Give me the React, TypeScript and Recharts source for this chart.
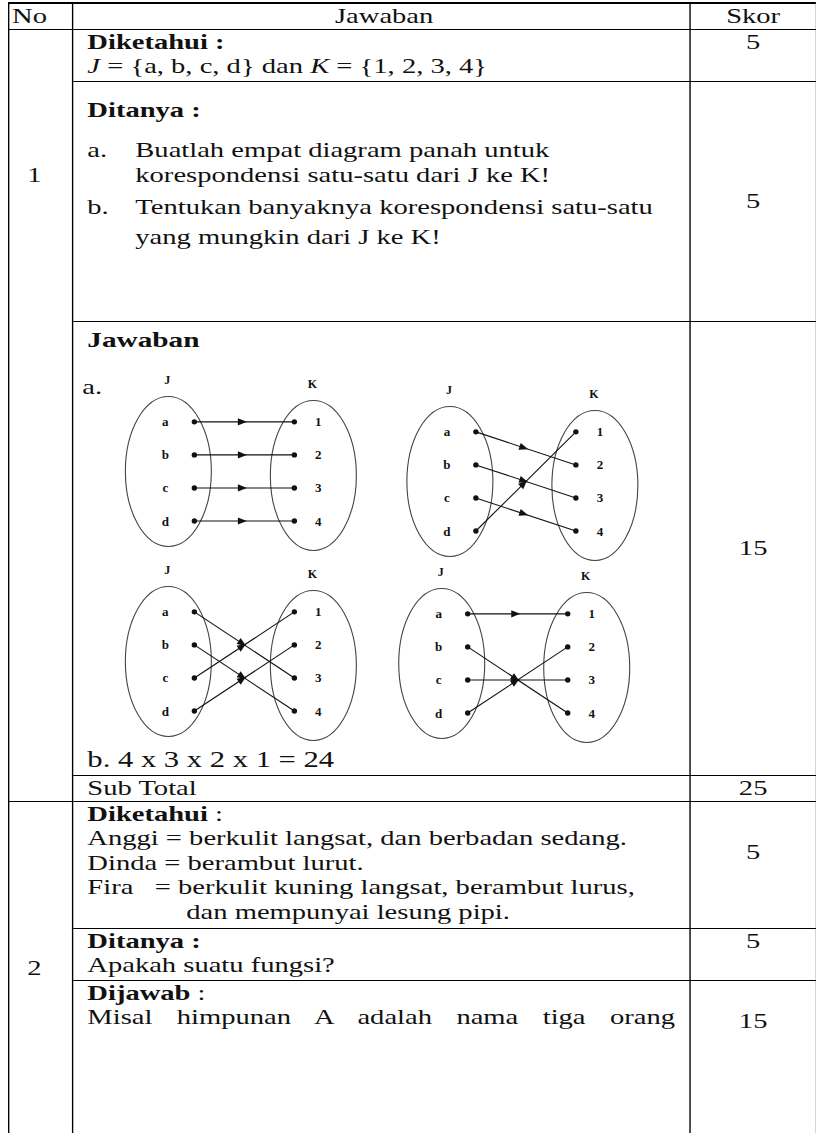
import React from 'react'
import { ScatterChart, Scatter, XAxis, YAxis, ReferenceDot } from 'recharts'

// sets of the correspondence
const setJ = ['a', 'b', 'c', 'd']
const setK = ['1', '2', '3', '4']
// image in K of a, b, c, d for each of the four arrow diagrams
const map1 = ['1', '2', '3', '4']
const map2 = ['2', '3', '4', '1']
const map3 = ['3', '4', '1', '2']
const map4 = ['1', '4', '3', '2']
const diagramMaps = [map1, map2, map3, map4]
const setPos = { J: 1, K: 2 }

// the scanned table is wider than its text height suggests
const SX = 1.36
const u = (px: number) => px / SX

const serif = '"Liberation Serif", "Times New Roman", serif'
const border = '1.5px solid #000'

const jPoints = setJ.map((name, i) => ({ x: setPos.J, y: i + 1, name }))
const kPoints = setK.map((name, i) => ({ x: setPos.K, y: i + 1, name }))

const ArrowLine = (props: any) => {
  const pts = props.points || []
  if (pts.length < 2) return <g />
  const [p, q] = pts
  const t = 0.48
  const mx = p.x + (q.x - p.x) * t
  const my = p.y + (q.y - p.y) * t
  const ang = Math.atan2(q.y - p.y, q.x - p.x)
  const L = 9
  const W = 3.6
  const tip = [mx + (Math.cos(ang) * L) / 2, my + (Math.sin(ang) * L) / 2]
  const b1 = [mx - (Math.cos(ang) * L) / 2 - Math.sin(ang) * W, my - (Math.sin(ang) * L) / 2 + Math.cos(ang) * W]
  const b2 = [mx - (Math.cos(ang) * L) / 2 + Math.sin(ang) * W, my - (Math.sin(ang) * L) / 2 - Math.cos(ang) * W]
  return (
    <g>
      <line x1={p.x} y1={p.y} x2={q.x} y2={q.y} stroke="#111" strokeWidth={1.1} />
      <polygon points={`${tip.join(',')} ${b1.join(',')} ${b2.join(',')}`} fill="#111" />
    </g>
  )
}

const JDot = (props: any) => (
  <g>
    <circle cx={props.cx} cy={props.cy} r={2.7} fill="#111" />
    <text x={props.cx - 29} y={props.cy + 4.5} textAnchor="middle" fontFamily={serif} fontWeight="bold" fontSize={13} fill="#111">
      {props.payload.name}
    </text>
  </g>
)

const KDot = (props: any) => (
  <g>
    <circle cx={props.cx} cy={props.cy} r={2.7} fill="#111" />
    <text x={props.cx + 24} y={props.cy + 4.5} textAnchor="middle" fontFamily={serif} fontWeight="bold" fontSize={13} fill="#111">
      {props.payload.name}
    </text>
  </g>
)

const SetEllipse = (side: 'J' | 'K') => (props: any) => {
  const cx = side === 'J' ? props.cx - 26 : props.cx + 19
  const cy = side === 'J' ? props.cy : props.cy + 4
  return (
    <g>
      <ellipse cx={cx} cy={cy} rx={43} ry={75} fill="none" stroke="#444" strokeWidth={1.1} />
      <text x={cx - 1} y={cy - 87} textAnchor="middle" fontFamily={serif} fontWeight="bold" fontSize={12} fill="#111">
        {side}
      </text>
    </g>
  )
}

const ArrowDiagram = ({ map }: { map: string[] }) => (
  <ScatterChart width={250} height={190} margin={{ top: 0, right: 0, bottom: 0, left: 0 }}>
    <XAxis type="number" dataKey="x" domain={[0.17, 2.67]} hide allowDataOverflow />
    <YAxis type="number" dataKey="y" domain={[-0.6, 5.15]} reversed hide allowDataOverflow />
    <ReferenceDot x={setPos.J} y={2.5} r={0} shape={SetEllipse('J')} />
    <ReferenceDot x={setPos.K} y={2.5} r={0} shape={SetEllipse('K')} />
    {map.map((k, i) => (
      <Scatter
        key={i}
        data={[
          { x: setPos.J, y: i + 1 },
          { x: setPos.K, y: setK.indexOf(k) + 1 },
        ]}
        line={ArrowLine}
        shape={() => <g />}
        isAnimationActive={false}
      />
    ))}
    <Scatter data={jPoints} shape={JDot} isAnimationActive={false} />
    <Scatter data={kPoints} shape={KDot} isAnimationActive={false} />
  </ScatterChart>
)

// page offsets of the diagrams inside the answer cell
const diagramPos = [
  { left: 38, top: 47 },
  { left: 320, top: 57 },
  { left: 38, top: 237 },
  { left: 312, top: 239 },
]

const td = (extra: React.CSSProperties = {}): React.CSSProperties => ({
  border,
  padding: `0 ${u(14)}px`,
  verticalAlign: 'top',
  ...extra,
})

const skor = (extra: React.CSSProperties = {}): React.CSSProperties => td({ textAlign: 'center', padding: 0, ...extra })

const item = (mark: string, lines: string[], mt: number, gap = 0) => (
  <div style={{ display: 'flex', marginTop: mt }}>
    <span style={{ width: u(48), flex: 'none' }}>{mark}</span>
    <span>
      {lines.map((l, i) => (
        <div key={i} style={{ marginTop: i ? gap : 0 }}>
          {l}
        </div>
      ))}
    </span>
  </div>
)

const head = { borderTop: 'none' }

export default function App() {
  return (
    <div
      style={{
        position: 'absolute',
        left: 8,
        top: 2,
        fontFamily: serif,
        fontSize: 21,
        lineHeight: '24.5px',
        color: '#111',
        width: u(808),
        borderTop: '2px solid #000',
        transform: `scaleX(${SX})`,
        transformOrigin: 'left top',
      }}
    >
      <table style={{ borderCollapse: 'collapse', tableLayout: 'fixed', width: u(808) }}>
        <colgroup>
          <col style={{ width: u(64) }} />
          <col style={{ width: u(617) }} />
          <col style={{ width: u(127) }} />
        </colgroup>
        <tbody>
          <tr style={{ height: 22 }}>
            <td style={td({ padding: '0 2px', ...head })}>No</td>
            <td style={td({ textAlign: 'center', paddingLeft: u(20), ...head })}>Jawaban</td>
            <td style={skor(head)}>Skor</td>
          </tr>
          <tr style={{ height: 52 }}>
            <td rowSpan={4} style={td({ padding: `133px 0 0 ${u(18)}px` })}>1</td>
            <td style={td()}>
              <div style={{ fontWeight: 'bold' }}>Diketahui :</div>
              <div>
                <i>J</i> = {'{'}a, b, c, d{'}'} dan <i>K</i> = {'{'}1, 2, 3, 4{'}'}
              </div>
            </td>
            <td style={skor()}>5</td>
          </tr>
          <tr style={{ height: 240 }}>
            <td style={td({ paddingTop: 16 })}>
              <div style={{ fontWeight: 'bold' }}>Ditanya :</div>
              {item('a.', ['Buatlah empat diagram panah untuk', 'korespondensi satu-satu dari J ke K!'], 16)}
              {item('b.', ['Tentukan banyaknya korespondensi satu-satu', 'yang mungkin dari J ke K!'], 8, 5)}
            </td>
            <td style={skor({ verticalAlign: 'middle' })}>5</td>
          </tr>
          <tr style={{ height: 453 }}>
            <td style={td({ padding: 0 })}>
              <div style={{ position: 'relative', height: 453 }}>
                <div style={{ position: 'absolute', left: u(14), top: 6, fontWeight: 'bold', fontSize: 21.5 }}>Jawaban</div>
                <div style={{ position: 'absolute', left: u(9), top: 53 }}>a.</div>
                {diagramMaps.map((m, i) => (
                  <div
                    key={i}
                    style={{
                      position: 'absolute',
                      left: u(diagramPos[i].left),
                      top: diagramPos[i].top,
                      transform: `scaleX(${1 / SX})`,
                      transformOrigin: 'left top',
                    }}
                  >
                    <ArrowDiagram map={m} />
                  </div>
                ))}
                <div style={{ position: 'absolute', left: u(14), top: 424, fontSize: 22.5, lineHeight: '28px', whiteSpace: 'nowrap' }}>
                  b. 4 x 3 x 2 x 1 = 24
                </div>
              </div>
            </td>
            <td style={skor({ verticalAlign: 'middle' })}>15</td>
          </tr>
          <tr style={{ height: 26 }}>
            <td style={td()}>Sub Total</td>
            <td style={skor()}>25</td>
          </tr>
          <tr style={{ height: 127 }}>
            <td rowSpan={3} style={td({ padding: `154px 0 0 ${u(18)}px` })}>2</td>
            <td style={td()}>
              <div>
                <b>Diketahui</b> :
              </div>
              <div>Anggi = berkulit langsat, dan berbadan sedang.</div>
              <div>Dinda = berambut lurut.</div>
              <div style={{ whiteSpace: 'pre' }}>Fira   = berkulit kuning langsat, berambut lurus,</div>
              <div style={{ paddingLeft: u(99) }}>dan mempunyai lesung pipi.</div>
            </td>
            <td style={skor({ paddingTop: 38 })}>5</td>
          </tr>
          <tr style={{ height: 52 }}>
            <td style={td()}>
              <div style={{ fontWeight: 'bold' }}>Ditanya :</div>
              <div>Apakah suatu fungsi?</div>
            </td>
            <td style={skor()}>5</td>
          </tr>
          <tr style={{ height: 220 }}>
            <td style={td()}>
              <div>
                <b>Dijawab</b> :
              </div>
              <div style={{ textAlign: 'justify', textAlignLast: 'justify' }}>Misal himpunan A adalah nama tiga orang</div>
            </td>
            <td style={skor({ paddingTop: 28 })}>15</td>
          </tr>
        </tbody>
      </table>
    </div>
  )
}
